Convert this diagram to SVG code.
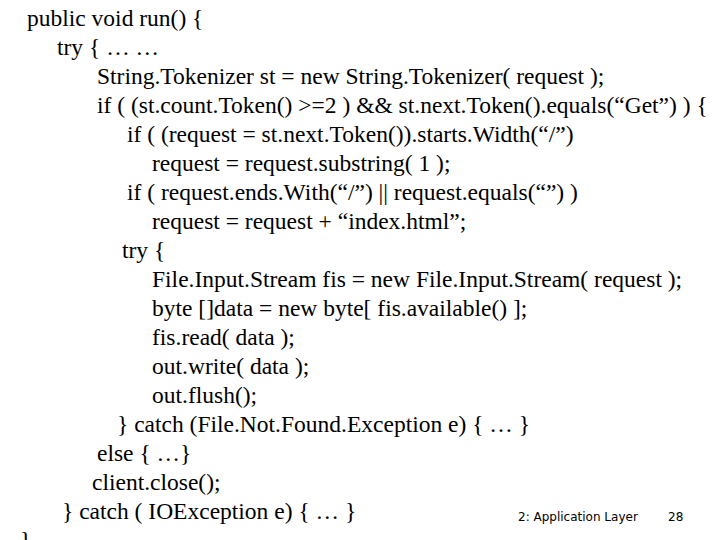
<svg xmlns="http://www.w3.org/2000/svg" width="720" height="540" viewBox="0 0 720 540">
<style>
.c{font-family:'Liberation Serif','Times New Roman',Tinos,'DejaVu Serif',serif;font-size:23.5px;fill:#000}
.f{font-family:'DejaVu Sans',sans-serif;font-size:12px;fill:#000}
</style>
<rect width="720" height="540" fill="#fff"/>
<g id="code">
<text class="c" x="27" y="26">public void run() {</text>
<text class="c" x="57" y="55">try {   … …</text>
<text class="c" x="97" y="84">String.Tokenizer st = new String.Tokenizer( request );</text>
<text class="c" x="97" y="113">if ( (st.count.Token() &gt;=2 ) &amp;&amp; st.next.Token().equals(“Get”) ) {</text>
<text class="c" x="127" y="142">if ( (request = st.next.Token()).starts.Width(“/”)</text>
<text class="c" x="152" y="171">request = request.substring( 1 );</text>
<text class="c" x="127" y="200">if ( request.ends.With(“/”) || request.equals(“”) )</text>
<text class="c" x="152" y="229">request = request + “index.html”;</text>
<text class="c" x="122" y="258">try {</text>
<text class="c" x="152" y="287">File.Input.Stream fis = new File.Input.Stream( request );</text>
<text class="c" x="152" y="316">byte []data = new byte[ fis.available() ];</text>
<text class="c" x="152" y="345">fis.read( data );</text>
<text class="c" x="152" y="374">out.write( data );</text>
<text class="c" x="152" y="403">out.flush();</text>
<text class="c" x="117" y="432">} catch (File.Not.Found.Exception e) { … }</text>
<text class="c" x="97" y="461">else { …}</text>
<text class="c" x="92" y="490">client.close();</text>
<text class="c" x="62" y="519">} catch ( IOException e) { … }</text>
<text class="c" x="20" y="548">}</text>
</g>
<g id="footer">
<text class="f" x="518" y="521">2: Application Layer</text>
<text class="f" x="668" y="521">28</text>
</g>
</svg>
